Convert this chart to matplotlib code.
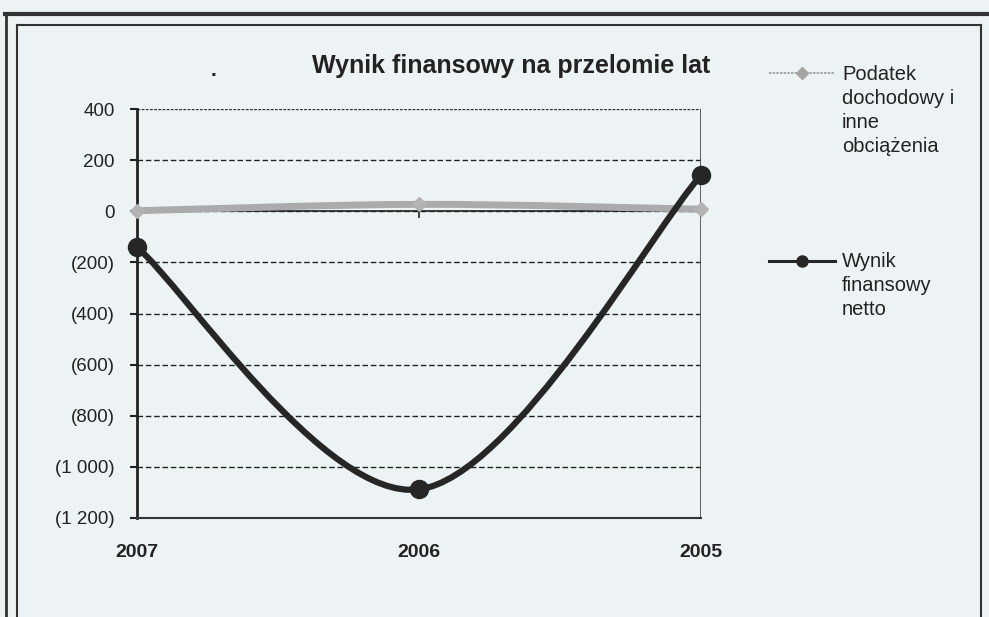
import matplotlib
matplotlib.use("Agg")
import matplotlib.pyplot as plt
from matplotlib.path import Path
from matplotlib.patches import PathPatch
from matplotlib.lines import Line2D
from matplotlib.ticker import FuncFormatter
import numpy as np

plt.rcParams['font.family'] = ['Liberation Sans', 'DejaVu Sans']

# ---- data ----
years = ["2007", "2006", "2005"]
podatek = [2, 27, 8]
wynik = [-140, -1088, 141]
series_names = ["Podatek\ndochodowy i\ninne\nobciążenia", "Wynik\nfinansowy\nnetto"]
title = "Wynik finansowy na przelomie lat"
y_ticks = [400, 200, 0, -200, -400, -600, -800, -1000, -1200]

BG = "#edf3f5"
INK = "#222222"
W, H = 989, 617

fig = plt.figure(figsize=(W/100, H/100), dpi=100, facecolor=BG)
ax = fig.add_axes([137/W, 1-518/H, (701-137)/W, (518-109)/H])
ax.set_facecolor(BG)

x = np.arange(len(years))


def smooth_path(xs, ys):
    pts = np.column_stack([xs, ys]).astype(float)
    n = len(pts)
    verts = [pts[0]]
    codes = [Path.MOVETO]
    for i in range(n - 1):
        p0 = pts[i - 1] if i > 0 else pts[i]
        p1 = pts[i]
        p2 = pts[i + 1]
        p3 = pts[i + 2] if i + 2 < n else pts[i + 1]
        c1 = p1 + (p2 - p0) / 6.0
        c2 = p2 - (p3 - p1) / 6.0
        verts += [c1, c2, p2]
        codes += [Path.CURVE4] * 3
    return Path(verts, codes)


# category axis crossing at zero (mostly hidden under the grey series)
ax.axhline(0, color=INK, lw=1.2, zorder=2)
ax.vlines(x[1:-1], -25, 25, color=INK, lw=1.2, zorder=2)

# Podatek series (grey, thick, smoothed)
ax.add_patch(PathPatch(smooth_path(x, podatek), facecolor="none",
                       edgecolor="#ababab", lw=5.0, zorder=3, capstyle="round"))
ax.plot(x, podatek, linestyle="none", marker="D", markersize=7,
        color="#b3b3b3", zorder=4, clip_on=False)

# Wynik series (dark, thick, smoothed)
ax.add_patch(PathPatch(smooth_path(x, wynik), facecolor="none",
                       edgecolor="#262626", lw=4.5, zorder=5, capstyle="round"))
ax.plot(x, wynik, linestyle="none", marker="o", markersize=13,
        color="#262626", zorder=6, clip_on=False)

ax.set_xlim(0, len(years) - 1)
ax.set_ylim(-1200, 400)
ax.set_yticks(y_ticks)


def fmt(v, pos):
    v = int(round(v))
    s = f"{abs(v):,}".replace(",", " ")
    return f"({s})" if v < 0 else s


ax.yaxis.set_major_formatter(FuncFormatter(fmt))
ax.tick_params(axis="y", direction="out", length=5, width=1.5, color=INK,
               labelsize=13.5, pad=11, labelcolor=INK)
ax.set_xticks(x)
ax.set_xticklabels(years, fontweight="bold", fontsize=14, color=INK)
ax.tick_params(axis="x", length=0, pad=19)

for v in y_ticks[1:-1]:
    ax.axhline(v, color=INK, lw=1.0, ls=(0, (4, 2)), zorder=1)
ax.axhline(400, color="#333333", lw=1.0, ls=(0, (2, 1)), zorder=1)

for side in ["top", "right"]:
    ax.spines[side].set_visible(False)
ax.spines["left"].set_color(INK)
ax.spines["left"].set_linewidth(2.0)
ax.spines["bottom"].set_color("#333333")
ax.spines["bottom"].set_linewidth(1.5)
ax.spines["bottom"].set_linestyle((0, (2, 1)))
ax.axvline(x[-1], color="#444444", lw=1.2, zorder=1)

# Title
fig.text(511/W, 1-73/H, title, ha="center", va="baseline",
         fontsize=18, fontweight="bold", color=INK)

# Stray mark near title (present in the scan)
fig.text(213/W, 1-76/H, ".", ha="center", va="baseline", fontsize=15,
         fontweight="bold", color=INK)

# Legend (manual, matching Excel layout)
lx0, lx1 = 769/W, 835/W
tx = 842/W
line_step = 24/H

ly1 = 1-73/H
fig.add_artist(Line2D([lx0, lx1], [ly1, ly1], transform=fig.transFigure,
                      color="#9a9a9a", lw=1.2, ls=(0, (1.5, 0.7))))
fig.add_artist(Line2D([(lx0+lx1)/2], [ly1], transform=fig.transFigure,
                      marker="D", markersize=6.5, color="#a5a5a5", ls="none"))
for i, line in enumerate(series_names[0].split("\n")):
    fig.text(tx, 1-80/H - i*line_step, line, ha="left", va="baseline",
             fontsize=14.5, color=INK)

ly2 = 1-261/H
fig.add_artist(Line2D([lx0, lx1], [ly2, ly2], transform=fig.transFigure,
                      color="#262626", lw=2.2))
fig.add_artist(Line2D([(lx0+lx1)/2], [ly2], transform=fig.transFigure,
                      marker="o", markersize=8, color="#262626", ls="none"))
for i, line in enumerate(series_names[1].split("\n")):
    fig.text(tx, 1-267/H - i*line_step, line, ha="left", va="baseline",
             fontsize=14.5, color=INK)

# Frames
fig.add_artist(Line2D([5/W, 1], [1-14/H, 1-14/H],
                      transform=fig.transFigure, color="#333333", lw=3))
fig.add_artist(Line2D([6/W, 6/W], [0, 1-14/H],
                      transform=fig.transFigure, color="#333333", lw=2))
fig.add_artist(Line2D([17/W, 981/W], [1-25/H, 1-25/H],
                      transform=fig.transFigure, color="#333333", lw=1.5))
fig.add_artist(Line2D([17/W, 17/W], [0, 1-25/H],
                      transform=fig.transFigure, color="#333333", lw=1.5))
fig.add_artist(Line2D([981/W, 981/W], [0, 1-25/H],
                      transform=fig.transFigure, color="#333333", lw=1.5))

fig.savefig("out.png", dpi=100, facecolor=BG)
